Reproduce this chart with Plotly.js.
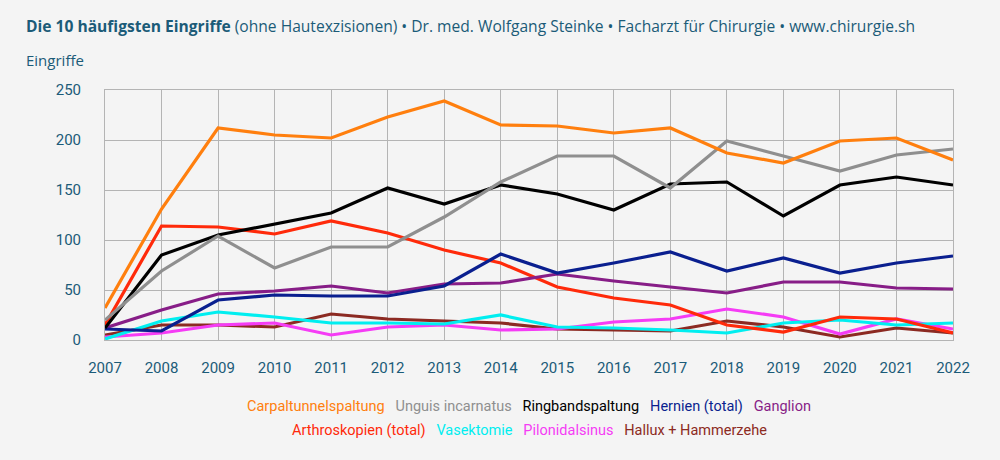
<!DOCTYPE html>
<html><head><meta charset="utf-8">
<script src="https://cdn.plot.ly/plotly-3.0.1.min.js"></script>
<style>html,body{margin:0;padding:0;background:#f4f4f4;}#chart{width:1000px;height:460px;}</style>
</head><body><div id="chart"></div>
<script>
const years = [2007,2008,2009,2010,2011,2012,2013,2014,2015,2016,2017,2018,2019,2020,2021,2022];
const carpaltunnel = [32,131,212,205,202,223,239,215,214,207,212,187,177,199,202,180];
const unguis       = [20,69,104,72,93,93,123,158,184,184,152,199,184,169,185,191];
const ringband     = [12,85,105,116,127,152,136,155,146,130,156,158,124,155,163,155];
const hernien      = [11,9,40,45,44,44,54,86,67,77,88,69,82,67,77,84];
const ganglion     = [12,30,46,49,54,47,56,57,66,59,53,47,58,58,52,51];
const arthroskopie = [15,114,113,106,119,107,90,77,53,42,35,15,8,23,21,7];
const vasektomie   = [1,19,28,23,17,17,16,25,13,12,10,7,17,20,15,17];
const pilonidal    = [3,7,15,17,5,13,15,10,11,18,21,31,23,6,21,11];
const hallux       = [5,15,15,13,26,21,19,17,11,10,9,19,13,3,12,7];

const names = ["Carpaltunnelspaltung","Unguis incarnatus","Ringbandspaltung","Hernien (total)","Ganglion",
               "Arthroskopien (total)","Vasektomie","Pilonidalsinus","Hallux + Hammerzehe"];
const series = [carpaltunnel,unguis,ringband,hernien,ganglion,arthroskopie,vasektomie,pilonidal,hallux];
const colors = ["#ff7f0e","#8f8f8f","#000000","#0a1f8f","#871d87","#ff2a0a","#00eef0","#f53cf5","#8c2a22"];
const drawOrder = [8,7,6,5,4,3,2,1,0];

const font = "Roboto, 'Open Sans', sans-serif";
const titleFont = "'Open Sans', Roboto, sans-serif";
const textCol = "#1b5b78";

const traces = drawOrder.map(i => ({
  x: years, y: series[i], type: "scatter", mode: "lines", name: names[i],
  line: {color: colors[i], width: 3.2}, showlegend: false, hoverinfo: "skip"
}));

function legendRow(idx){
  return idx.map(i => `<span style="color:${colors[i]}">${names[i]}</span>`).join("&nbsp;&nbsp;&nbsp;");
}

const layout = {
  width: 1000, height: 460,
  paper_bgcolor: "#f4f4f4", plot_bgcolor: "#f4f4f4",
  margin: {l: 105, r: 47, t: 90, b: 120},
  font: {family: font, color: textCol, size: 15},
  xaxis: {range: [2007, 2022], dtick: 1, tick0: 2007, showgrid: true, gridcolor: "#b4b4b4", gridwidth: 1,
          zeroline: false, showline: true, linecolor: "#b4b4b4", mirror: true, ticks: "",
          ticklabelstandoff: 14, tickfont: {size: 15, color: textCol, family: font}},
  yaxis: {range: [0, 250], dtick: 50, showgrid: true, gridcolor: "#b4b4b4", gridwidth: 1,
          zeroline: false, showline: true, linecolor: "#b4b4b4", mirror: true, ticks: "",
          ticklabelstandoff: 20, tickfont: {size: 15, color: textCol, family: font}},
  annotations: [
    {xref: "paper", yref: "paper", x: -0.095, y: 1.0, xanchor: "left", yanchor: "bottom", yshift: 51, showarrow: false,
     text: "<b>Die 10 häufigsten Eingriffe</b> (ohne Hautexzisionen) • Dr. med. Wolfgang Steinke • Facharzt für Chirurgie • www.chirurgie.sh",
     font: {size: 15.6, color: textCol, family: titleFont}},
    {xref: "paper", yref: "paper", x: -0.095, y: 1.0, xanchor: "left", yanchor: "bottom", yshift: 18, showarrow: false,
     text: "Eingriffe", font: {size: 15, color: textCol, family: titleFont}},
    {xref: "paper", yref: "paper", x: 0.5, y: 0, xanchor: "center", yanchor: "middle", yshift: -66, showarrow: false,
     text: legendRow([0,1,2,3,4]), font: {size: 14.5, family: font}},
    {xref: "paper", yref: "paper", x: 0.5, y: 0, xanchor: "center", yanchor: "middle", yshift: -90, showarrow: false,
     text: legendRow([5,6,7,8]), font: {size: 14.5, family: font}}
  ]
};
Plotly.newPlot("chart", traces, layout, {staticPlot: true, displayModeBar: false});
</script></body></html>
